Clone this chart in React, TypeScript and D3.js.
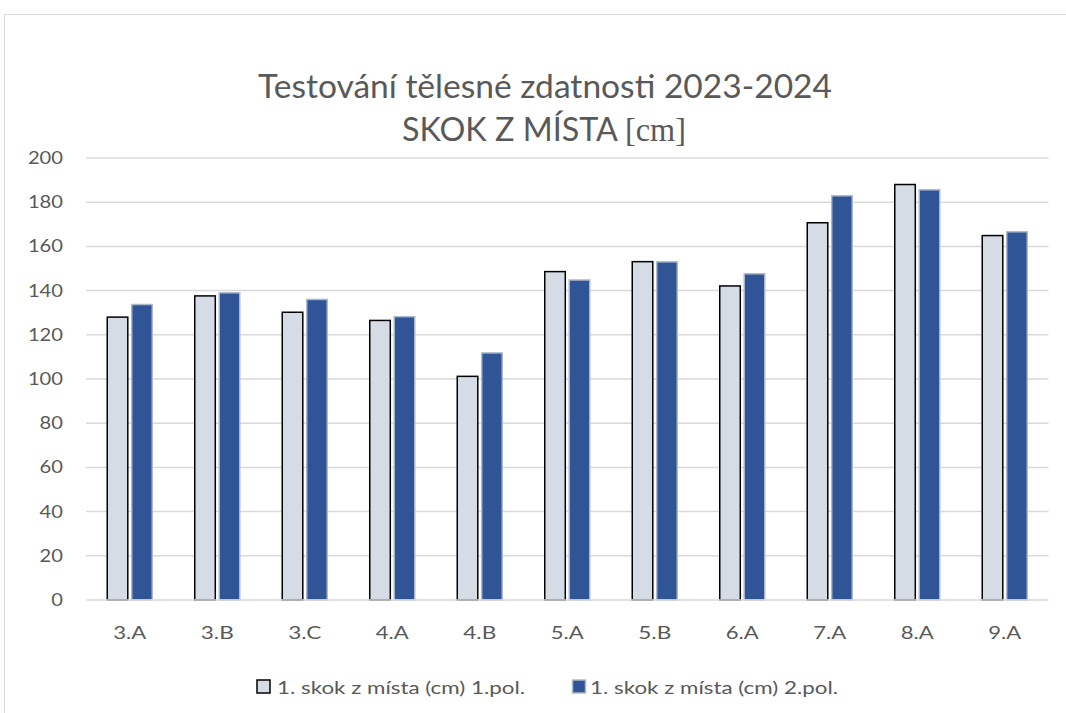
import React from "react";
import * as d3 from "d3";

const categories = ["3.A", "3.B", "3.C", "4.A", "4.B", "5.A", "5.B", "6.A", "7.A", "8.A", "9.A"];
const series1 = [128, 137.6, 130.2, 126.5, 101.2, 148.6, 153.1, 142.1, 170.7, 188, 164.9];
const series2 = [133.7, 139, 136, 128.2, 111.8, 144.8, 153, 147.6, 182.9, 185.6, 166.6];
const seriesNames = ["1. skok z místa (cm) 1.pol.", "1. skok z místa (cm) 2.pol."];
const yTicks = [0, 20, 40, 60, 80, 100, 120, 140, 160, 180, 200];

const W = 1066, H = 713;
const left = 86, right = 1048.5, top = 158, bottom = 600;
const FONT = "Lato, 'Open Sans', sans-serif";
const TXT = "#595959";

export default function App() {
  const x = d3.scaleBand<string>().domain(categories).range([left, right]).paddingInner(0).paddingOuter(0);
  const y = d3.scaleLinear().domain([0, 200]).range([bottom, top]);
  const sub = d3.scaleBand<number>().domain([0, 1]).range([0, 45]).paddingInner(0.16);
  const groupOffset = (x.bandwidth() - 45) / 2;
  return (
    <svg width={W} height={H} style={{ position: "absolute", left: 0, top: 0, background: "#fff" }}>
      <rect x={4.5} y={14.5} width={W + 10} height={H + 10} fill="#fff" stroke="#d9d9d9" strokeWidth={1} />
      <text x={545} y={97.5} textAnchor="middle" fontFamily={FONT} fontSize={33} fill={TXT}
        textLength={574} lengthAdjust="spacingAndGlyphs">
        Testování tělesné zdatnosti 2023-2024
      </text>
      <text x={544} y={141} textAnchor="middle" fontFamily={FONT} fontSize={33} fill={TXT}
        textLength={284} lengthAdjust="spacingAndGlyphs">
        SKOK Z MÍSTA <tspan fontFamily="'Liberation Serif', serif">[cm]</tspan>
      </text>
      {yTicks.map((t) => (
        <g key={t}>
          {t > 0 && <line x1={left} x2={right} y1={y(t)} y2={y(t)} stroke="#d9d9d9" strokeWidth={1.5} />}
          <text x={63} y={y(t) + 6} textAnchor="end" fontFamily={FONT} fontSize={17} fill={TXT}
            textLength={String(t).length * 11.7} lengthAdjust="spacingAndGlyphs">
            {t}
          </text>
        </g>
      ))}
      {categories.map((c, i) => {
        const gx = (x(c) as number) + groupOffset;
        return (
          <g key={c}>
            <rect x={gx + (sub(0) as number)} y={y(series1[i])} width={sub.bandwidth()} height={bottom - y(series1[i])}
              fill="#d6dce5" stroke="#000" strokeWidth={1.5} />
            <rect x={gx + (sub(1) as number)} y={y(series2[i])} width={sub.bandwidth()} height={bottom - y(series2[i])}
              fill="#2f5597" stroke="#adb9ca" strokeWidth={1.5} />
            <text x={(x(c) as number) + x.bandwidth() / 2} y={639} textAnchor="middle" fontFamily={FONT} fontSize={18} fill={TXT}
              textLength={33} lengthAdjust="spacingAndGlyphs">
              {c}
            </text>
          </g>
        );
      })}
      <line x1={left} x2={right} y1={bottom} y2={bottom} stroke="#d9d9d9" strokeWidth={1.5} />
      <rect x={257} y={680} width={13} height={13} fill="#d6dce5" stroke="#000" strokeWidth={1.5} />
      <text x={277} y={694} fontFamily={FONT} fontSize={18} fill={TXT} textLength={248} lengthAdjust="spacingAndGlyphs">{seriesNames[0]}</text>
      <rect x={572.5} y={680} width={13} height={13} fill="#2f5597" stroke="#adb9ca" strokeWidth={1.5} />
      <text x={590} y={694} fontFamily={FONT} fontSize={18} fill={TXT} textLength={248} lengthAdjust="spacingAndGlyphs">{seriesNames[1]}</text>
    </svg>
  );
}
